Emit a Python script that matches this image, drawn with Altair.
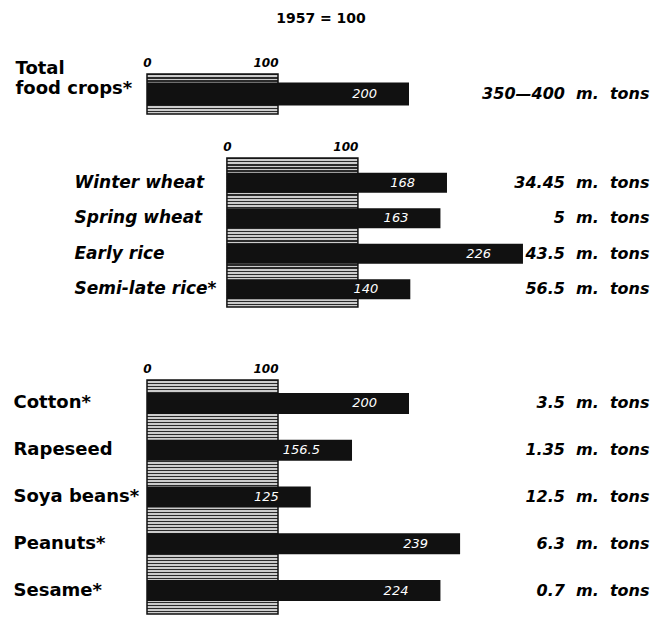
import json
import altair as alt
import pandas as pd

# ---------------- data ----------------
food_names = ["Total\nfood crops*"]
food_index = [200]
food_tons = ["350—400 m. tons"]

grain_names = ["Winter wheat", "Spring wheat", "Early rice", "Semi-late rice*"]
grain_index = [168, 163, 226, 140]
grain_tons = ["34.45 m. tons", "5 m. tons", "43.5 m. tons", "56.5 m. tons"]

ind_names = ["Cotton*", "Rapeseed", "Soya beans*", "Peanuts*", "Sesame*"]
ind_index = [200, 156.5, 125, 239, 224]
ind_tons = ["3.5 m. tons", "1.35 m. tons", "12.5 m. tons", "6.3 m. tons", "0.7 m. tons"]

base_year = [0, 100]
title_text = "1957 = 100"

# ---------------- style ----------------
FONT = "DejaVu Sans"
W = 490
PX_PER_UNIT = 1.31


def stripes(h, period=3.0, line=1.4, bg="#cccccc", fg="#2a2a2a"):
    n = max(1, int(h / period))
    stops = []
    for k in range(n):
        a = k / n
        b = (k + line / period) / n
        c = (k + 1) / n
        stops += [
            alt.GradientStop(offset=a, color=fg),
            alt.GradientStop(offset=b, color=fg),
            alt.GradientStop(offset=b, color=bg),
            alt.GradientStop(offset=c, color=bg),
        ]
    return alt.LinearGradient(gradient="linear", stops=stops, x1=0, x2=0, y1=0, y2=1)


def panel(names, values, tons, height, x_min, bar_h, label_pad, italic, name_size,
          pad_outer, align, label_offset=0, top_title=None):
    n = len(names)
    df = pd.DataFrame({"idx": list(range(n)), "value": values,
                       "label": [("%g" % v) for v in values]})
    box = pd.DataFrame({"start": [base_year[0]], "end": [base_year[1]]})

    left_labels = [nm.split("\n") if "\n" in nm else nm for nm in names]
    left_expr = json.dumps(left_labels, ensure_ascii=False) + "[datum.value]"
    right_expr = json.dumps([t.replace(" ", "\u00a0\u00a0") for t in tons],
                            ensure_ascii=False) + "[datum.value]"

    xscale = alt.Scale(domain=[x_min, x_min + W / PX_PER_UNIT], nice=False, zero=False)
    axis_kw = dict(orient="top", values=base_year, format="d", ticks=False, domain=False,
                   grid=False, labelFont=FONT, labelFontSize=12, labelFontWeight="bold",
                   labelFontStyle="italic", labelColor="black", labelPadding=5,
                   labelAlign=alt.ExprRef(expr="datum.value == 0 ? 'center' : 'right'"))
    if top_title is not None:
        axis_kw.update(title=top_title, titleFontSize=22, titlePadding=6)
    else:
        axis_kw.update(title=None)
    xaxis = alt.Axis(**axis_kw)

    yscale = alt.Scale(paddingInner=0, paddingOuter=pad_outer, align=align)

    rect = alt.Chart(box).mark_rect(
        fill=stripes(height), stroke="#111111", strokeWidth=1.5
    ).encode(
        x=alt.X("start:Q", scale=xscale, axis=xaxis),
        x2="end:Q",
    )

    bars = alt.Chart(df).mark_bar(color="#111111", height=bar_h).encode(
        x=alt.X("value:Q", scale=xscale, axis=xaxis),
        x2=alt.datum(0),
        y=alt.Y("idx:O", scale=yscale, axis=alt.Axis(
            orient="left", title=None, ticks=False, domain=False, labelExpr=left_expr,
            labelAlign="left", labelPadding=label_pad, labelFont=FONT,
            labelFontSize=name_size, labelFontWeight="bold",
            labelFontStyle="italic" if italic else "normal",
            labelColor="black", labelLimit=0, labelOffset=label_offset,
            labelLineHeight=20)),
    )

    text = alt.Chart(df).mark_text(
        align="right", dx=-32, color="white", font=FONT, fontSize=13,
        fontStyle="italic", fontWeight="normal"
    ).encode(
        x=alt.X("value:Q", scale=xscale, axis=xaxis),
        y=alt.Y("idx:O", scale=yscale, axis=alt.Axis(
            orient="right", title=None, ticks=False, domain=False, labelExpr=right_expr,
            labelAlign="right", labelPadding=12, labelFont=FONT, labelFontSize=16,
            labelFontWeight="bold", labelFontStyle="italic", labelColor="black",
            labelLimit=0)),
        text="label:N",
    )

    return alt.layer(rect, bars, text).resolve_axis(y="independent").properties(
        width=W, height=height)


p1 = panel(food_names, food_index, food_tons, 40, 0, 23, 132, False, 18, 0, 0.5,
           label_offset=-25)
p2 = panel(grain_names, grain_index, grain_tons, 149, -61, 20, 73, True, 17, 0.1, 1)
p3 = panel(ind_names, ind_index, ind_tons, 234, 0, 21, 134, False, 18, 0, 0.5,
           top_title=" ")

chart = alt.vconcat(p1, p2, p3, spacing=25).properties(
    title=alt.TitleParams(title_text, anchor="middle", font=FONT, fontSize=14,
                          fontWeight="bold", offset=30, dx=-10, color="black"),
    padding={"top": 4, "left": 5, "right": 5, "bottom": 0},
    background="white",
).configure_view(strokeWidth=0, stroke="transparent")

chart.save("out.html", embed_options={"renderer": "svg", "actions": False})
